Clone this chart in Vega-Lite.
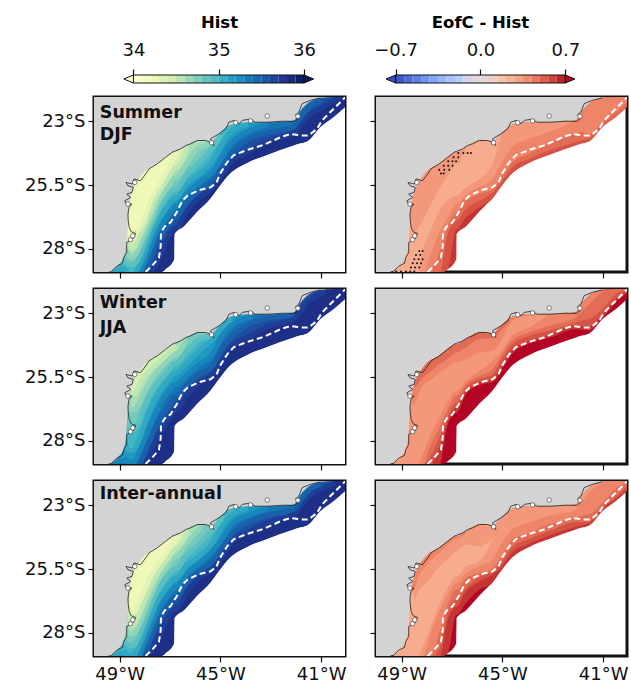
{"$schema":"https://vega.github.io/schema/vega-lite/v6.json","padding":{"left":22,"top":14,"right":4,"bottom":4},"background":"white","bounds":"flush","columns":2,"spacing":{"row":17,"column":31},"resolve":{"scale":{"color":"independent"}},
"config":{"font":"DejaVu Sans","axis":{"labelFont":"DejaVu Sans","labelFontSize":18,"labelColor":"#111","tickColor":"#111","tickSize":6,"tickWidth":1.2,"domain":false,"grid":false,"labelPadding":3,"titleFont":"DejaVu Sans"},"view":{"stroke":"#111","strokeWidth":3}},
"datasets":{
"land":[{"lon":-50.2,"c":-29},{"lon":-49.33,"c":-28.88},{"lon":-49.03,"c":-28.62},{"lon":-48.83,"c":-28.29},{"lon":-48.74,"c":-27.76},{"lon":-48.67,"c":-26.78},{"lon":-48.59,"c":-26.12},{"lon":-48.5,"c":-25.79},{"lon":-48.37,"c":-25.46},{"lon":-48.17,"c":-25.16},{"lon":-47.9,"c":-24.87},{"lon":-47.51,"c":-24.67},{"lon":-47.17,"c":-24.4},{"lon":-46.83,"c":-24.21},{"lon":-46.45,"c":-24.01},{"lon":-45.92,"c":-23.75},{"lon":-45.39,"c":-23.79},{"lon":-45.06,"c":-23.49},{"lon":-44.6,"c":-23.13},{"lon":-43.93,"c":-23.03},{"lon":-43.14,"c":-23.03},{"lon":-42.08,"c":-22.96},{"lon":-41.88,"c":-22.66},{"lon":-41.55,"c":-22.3},{"lon":-41.02,"c":-22.08},{"lon":-40.49,"c":-22.04},{"lon":-39.97,"c":-22.04}],
"sea":[{"lon":-47.9,"e":-29},{"lon":-47.51,"e":-29},{"lon":-47.17,"e":-28.81},{"lon":-46.83,"e":-28.42},{"lon":-46.82,"e":-27.43},{"lon":-46.45,"e":-27.13},{"lon":-45.92,"e":-26.55},{"lon":-45.39,"e":-26.03},{"lon":-45.06,"e":-25.59},{"lon":-44.6,"e":-25.04},{"lon":-43.93,"e":-24.63},{"lon":-43.14,"e":-24.32},{"lon":-42.08,"e":-23.95},{"lon":-41.88,"e":-23.88},{"lon":-41.55,"e":-23.79},{"lon":-41.02,"e":-23.22},{"lon":-40.49,"e":-22.83},{"lon":-39.97,"e":-22.37}],
"dash":[{"lon":-47.97,"lat":-28.92},{"lon":-47.7,"lat":-28.66},{"lon":-47.44,"lat":-28.36},{"lon":-47.37,"lat":-27.9},{"lon":-47.36,"lat":-27.37},{"lon":-47.21,"lat":-27.13},{"lon":-46.98,"lat":-26.97},{"lon":-46.74,"lat":-26.58},{"lon":-46.51,"lat":-26.12},{"lon":-46.31,"lat":-25.92},{"lon":-45.85,"lat":-25.7},{"lon":-45.39,"lat":-25.59},{"lon":-45.15,"lat":-25.4},{"lon":-45.02,"lat":-25.07},{"lon":-44.73,"lat":-24.61},{"lon":-44.46,"lat":-24.32},{"lon":-43.93,"lat":-24.12},{"lon":-43.27,"lat":-23.92},{"lon":-42.61,"lat":-23.62},{"lon":-42.21,"lat":-23.49},{"lon":-41.82,"lat":-23.55},{"lon":-41.49,"lat":-23.55},{"lon":-41.16,"lat":-23.29},{"lon":-40.96,"lat":-22.96},{"lon":-40.63,"lat":-22.63},{"lon":-40.16,"lat":-22.17},{"lon":-39.9,"lat":-21.91}],
"shore":[{"i":1,"lon":-49.33,"lat":-28.9},{"i":2,"lon":-49.12,"lat":-28.69},{"i":3,"lon":-48.89,"lat":-28.58},{"i":4,"lon":-48.83,"lat":-28.33},{"i":5,"lon":-48.72,"lat":-28.16},{"i":6,"lon":-48.72,"lat":-27.76},{"i":7,"lon":-48.59,"lat":-27.7},{"i":8,"lon":-48.43,"lat":-27.57},{"i":9,"lon":-48.37,"lat":-27.4},{"i":10,"lon":-48.54,"lat":-27.34},{"i":11,"lon":-48.62,"lat":-27.17},{"i":12,"lon":-48.66,"lat":-26.91},{"i":13,"lon":-48.67,"lat":-26.65},{"i":14,"lon":-48.63,"lat":-26.38},{"i":15,"lon":-48.51,"lat":-26.25},{"i":16,"lon":-48.72,"lat":-26.25},{"i":17,"lon":-48.8,"lat":-26.12},{"i":18,"lon":-48.56,"lat":-25.99},{"i":19,"lon":-48.72,"lat":-25.86},{"i":20,"lon":-48.51,"lat":-25.79},{"i":21,"lon":-48.46,"lat":-25.59},{"i":22,"lon":-48.67,"lat":-25.53},{"i":23,"lon":-48.75,"lat":-25.4},{"i":24,"lon":-48.5,"lat":-25.46},{"i":25,"lon":-48.43,"lat":-25.26},{"i":26,"lon":-48.17,"lat":-25.33},{"i":27,"lon":-47.97,"lat":-25.07},{"i":28,"lon":-47.84,"lat":-24.87},{"i":29,"lon":-47.51,"lat":-24.67},{"i":30,"lon":-47.17,"lat":-24.41},{"i":31,"lon":-46.91,"lat":-24.21},{"i":32,"lon":-46.58,"lat":-24.08},{"i":33,"lon":-46.38,"lat":-23.95},{"i":34,"lon":-46.18,"lat":-23.88},{"i":35,"lon":-45.92,"lat":-23.75},{"i":36,"lon":-45.59,"lat":-23.75},{"i":37,"lon":-45.39,"lat":-23.82},{"i":38,"lon":-45.26,"lat":-23.95},{"i":39,"lon":-45.39,"lat":-23.68},{"i":40,"lon":-45.06,"lat":-23.49},{"i":41,"lon":-44.79,"lat":-23.29},{"i":42,"lon":-44.66,"lat":-23.03},{"i":43,"lon":-44.46,"lat":-22.96},{"i":44,"lon":-44.26,"lat":-23.09},{"i":45,"lon":-44.13,"lat":-22.96},{"i":46,"lon":-43.87,"lat":-22.92},{"i":47,"lon":-43.6,"lat":-23.03},{"i":48,"lon":-43.14,"lat":-23.03},{"i":49,"lon":-42.48,"lat":-22.99},{"i":50,"lon":-42.06,"lat":-23},{"i":51,"lon":-41.88,"lat":-22.87},{"i":52,"lon":-42.02,"lat":-22.74},{"i":53,"lon":-41.88,"lat":-22.63},{"i":54,"lon":-41.75,"lat":-22.3},{"i":55,"lon":-41.42,"lat":-22.17},{"i":56,"lon":-41.02,"lat":-22.07}],
"isl":[{"lon":-43.14,"lat":-22.79},{"lon":-43.8,"lat":-22.98},{"lon":-44.39,"lat":-23.05},{"lon":-45.35,"lat":-23.84},{"lon":-48.48,"lat":-27.5},{"lon":-48.57,"lat":-27.65},{"lon":-48.67,"lat":-26.25},{"lon":-48.4,"lat":-25.4},{"lon":-41.92,"lat":-22.8}],
"dots":[{"lon":-46.75,"lat":-24.24},{"lon":-46.55,"lat":-24.24},{"lon":-46.38,"lat":-24.24},{"lon":-46.25,"lat":-24.24},{"lon":-46.94,"lat":-24.41},{"lon":-46.75,"lat":-24.41},{"lon":-47.15,"lat":-24.57},{"lon":-46.98,"lat":-24.57},{"lon":-46.84,"lat":-24.57},{"lon":-47.33,"lat":-24.74},{"lon":-47.15,"lat":-24.74},{"lon":-46.98,"lat":-24.74},{"lon":-47.51,"lat":-24.9},{"lon":-47.31,"lat":-24.9},{"lon":-47.11,"lat":-24.9},{"lon":-47.44,"lat":-25.05},{"lon":-47.33,"lat":-25.05},{"lon":-48.3,"lat":-28.09},{"lon":-48.17,"lat":-28.09},{"lon":-48.43,"lat":-28.25},{"lon":-48.26,"lat":-28.25},{"lon":-48.5,"lat":-28.42},{"lon":-48.33,"lat":-28.42},{"lon":-48.17,"lat":-28.42},{"lon":-48.56,"lat":-28.58},{"lon":-48.39,"lat":-28.58},{"lon":-48.23,"lat":-28.58},{"lon":-48.63,"lat":-28.74},{"lon":-48.47,"lat":-28.74},{"lon":-48.3,"lat":-28.74},{"lon":-49.22,"lat":-28.9},{"lon":-49.03,"lat":-28.9},{"lon":-48.83,"lat":-28.9},{"lon":-48.66,"lat":-28.9},{"lon":-48.5,"lat":-28.9}],
"cb1":[{"a":34,"b":34.1,"v":34.05},{"a":34.1,"b":34.2,"v":34.15},{"a":34.2,"b":34.3,"v":34.25},{"a":34.3,"b":34.4,"v":34.35},{"a":34.4,"b":34.5,"v":34.45},{"a":34.5,"b":34.6,"v":34.55},{"a":34.6,"b":34.7,"v":34.65},{"a":34.7,"b":34.8,"v":34.75},{"a":34.8,"b":34.9,"v":34.85},{"a":34.9,"b":35,"v":34.95},{"a":35,"b":35.1,"v":35.05},{"a":35.1,"b":35.2,"v":35.15},{"a":35.2,"b":35.3,"v":35.25},{"a":35.3,"b":35.4,"v":35.35},{"a":35.4,"b":35.5,"v":35.45},{"a":35.5,"b":35.6,"v":35.55},{"a":35.6,"b":35.7,"v":35.65},{"a":35.7,"b":35.8,"v":35.75},{"a":35.8,"b":35.9,"v":35.85},{"a":35.9,"b":36,"v":35.95}],
"cb2":[{"a":-0.7,"b":-0.63,"v":-0.665},{"a":-0.63,"b":-0.56,"v":-0.595},{"a":-0.56,"b":-0.49,"v":-0.525},{"a":-0.49,"b":-0.42,"v":-0.455},{"a":-0.42,"b":-0.35,"v":-0.385},{"a":-0.35,"b":-0.28,"v":-0.315},{"a":-0.28,"b":-0.21,"v":-0.245},{"a":-0.21,"b":-0.14,"v":-0.175},{"a":-0.14,"b":-0.07,"v":-0.105},{"a":-0.07,"b":0,"v":-0.035},{"a":0,"b":0.07,"v":0.035},{"a":0.07,"b":0.14,"v":0.105},{"a":0.14,"b":0.21,"v":0.175},{"a":0.21,"b":0.28,"v":0.245},{"a":0.28,"b":0.35,"v":0.315},{"a":0.35,"b":0.42,"v":0.385},{"a":0.42,"b":0.49,"v":0.455},{"a":0.49,"b":0.56,"v":0.525},{"a":0.56,"b":0.63,"v":0.595},{"a":0.63,"b":0.7,"v":0.665}],
"p1":[{"lon":-49.33,"c":-28.88,"35.8":-29,"35.2":-29,"35.0":-28.9},{"lon":-49.03,"c":-28.62,"35.8":-29,"35.2":-29,"35.0":-28.69},{"lon":-48.83,"c":-28.29,"35.8":-29,"35.2":-29,"35.0":-28.69,"34.8":-28.42},{"lon":-48.74,"c":-27.76,"35.8":-29,"35.2":-29,"35.0":-28.75,"34.8":-28.42,"34.6":-28.03},{"lon":-48.67,"c":-26.78,"35.8":-29,"35.2":-29,"35.0":-28.82,"34.8":-28.49,"34.6":-28.03,"34.4":-27.5,"34.2":-27.37},{"lon":-48.59,"c":-26.12,"35.8":-29,"35.2":-29,"35.0":-29,"34.8":-28.55,"34.6":-28.16,"34.4":-27.83,"34.2":-27.5},{"lon":-48.5,"c":-25.79,"35.8":-29,"35.2":-29,"35.0":-29,"34.8":-28.55,"34.6":-28.23,"34.4":-27.9,"34.2":-27.5},{"lon":-48.37,"c":-25.46,"35.8":-29,"35.4":-29,"35.2":-29,"35.0":-28.75,"34.8":-28.42,"34.6":-28.03,"34.4":-27.63,"34.2":-27.24},{"lon":-48.17,"c":-25.16,"35.8":-29,"35.4":-29,"35.2":-28.69,"35.0":-28.36,"34.8":-27.96,"34.6":-27.57,"34.4":-27.24,"34.2":-26.97},{"lon":-47.9,"c":-24.87,"35.8":-29,"35.6":-29,"35.4":-28.42,"35.2":-28.03,"35.0":-27.63,"34.8":-27.24,"34.6":-26.97,"34.4":-26.65,"34.2":-26.18},{"lon":-47.51,"c":-24.67,"35.8":-29,"35.6":-28.29,"35.4":-27.5,"35.2":-27.11,"35.0":-26.78,"34.8":-26.38,"34.6":-26.05,"34.4":-25.72,"34.2":-25.46},{"lon":-47.17,"c":-24.4,"35.8":-28.81,"35.6":-27.5,"35.4":-27.04,"35.2":-26.65,"35.0":-26.25,"34.8":-25.86,"34.6":-25.53,"34.4":-25.2,"34.2":-24.87},{"lon":-46.83,"c":-24.21,"35.8":-28.42,"35.6":-27.11,"35.4":-26.65,"35.2":-26.25,"35.0":-25.92,"34.8":-25.59,"34.6":-25.11,"34.4":-24.74,"34.2":-24.21},{"lon":-46.82,"c":-24.21,"35.8":-27.43,"35.6":-27.11,"35.4":-26.65,"35.2":-26.25,"35.0":-25.92,"34.8":-25.59,"34.6":-25.11,"34.4":-24.74},{"lon":-46.45,"c":-24.01,"35.8":-27.13,"35.6":-26.51,"35.4":-26.18,"35.2":-25.79,"35.0":-25.4,"34.8":-25.07,"34.6":-24.63,"34.4":-24.14},{"lon":-45.92,"c":-23.75,"35.8":-26.55,"35.6":-25.92,"35.4":-25.66,"35.2":-25.33,"35.0":-25,"34.8":-24.54,"34.6":-23.97},{"lon":-45.39,"c":-23.79,"35.8":-26.03,"35.6":-25.53,"35.4":-25.26,"35.2":-24.93,"35.0":-24.47,"34.8":-23.95,"34.6":-23.79},{"lon":-45.06,"c":-23.49,"35.8":-25.59,"35.6":-25.07,"35.4":-24.8,"35.2":-24.41,"35.0":-23.88,"34.8":-23.49},{"lon":-44.6,"c":-23.13,"35.8":-25.04,"35.6":-24.47,"35.4":-24.14,"35.2":-23.75,"35.0":-23.29},{"lon":-43.93,"c":-23.03,"35.8":-24.63,"35.6":-24.08,"35.4":-23.62,"35.2":-23.29,"35.0":-23.03},{"lon":-43.14,"c":-23.03,"35.8":-24.32,"35.6":-23.68,"35.4":-23.36,"35.2":-23.03},{"lon":-42.08,"c":-22.96,"35.8":-23.95,"35.6":-23.32,"35.4":-23.09},{"lon":-41.88,"c":-22.66,"35.8":-23.88,"35.6":-23.09,"35.4":-22.76},{"lon":-41.55,"c":-22.3,"35.8":-23.79,"35.6":-22.7,"35.4":-22.37},{"lon":-41.02,"c":-22.08,"35.8":-23.22,"35.6":-22.37,"35.4":-22.08},{"lon":-40.49,"c":-22.04,"35.8":-22.83,"35.6":-22.04},{"lon":-39.97,"c":-22.04,"35.8":-22.37}],
"p3":[{"lon":-49.33,"c":-28.88,"35.8":-29,"35.4":-29,"35.2":-28.88},{"lon":-49.03,"c":-28.62,"35.8":-29,"35.4":-29,"35.2":-28.69},{"lon":-48.83,"c":-28.29,"35.8":-29,"35.4":-29,"35.2":-28.69},{"lon":-48.74,"c":-27.76,"35.8":-29,"35.4":-29,"35.2":-28.62,"35.0":-28.16},{"lon":-48.67,"c":-26.78,"35.8":-29,"35.4":-29,"35.2":-28.69,"35.0":-28.16,"34.8":-27.24},{"lon":-48.59,"c":-26.12,"35.8":-29,"35.4":-29,"35.2":-28.75,"35.0":-28.29,"34.8":-27.5,"34.6":-26.38},{"lon":-48.5,"c":-25.79,"35.8":-29,"35.4":-29,"35.2":-28.75,"35.0":-28.29,"34.8":-27.5,"34.6":-26.71,"34.4":-26.18},{"lon":-48.37,"c":-25.46,"35.8":-29,"35.4":-29,"35.2":-28.55,"35.0":-28.03,"34.8":-27.3,"34.6":-26.58,"34.4":-25.92},{"lon":-48.17,"c":-25.16,"35.8":-29,"35.6":-29,"35.4":-28.62,"35.2":-28.09,"35.0":-27.5,"34.8":-26.78,"34.6":-26.18,"34.4":-25.53},{"lon":-47.9,"c":-24.87,"35.8":-29,"35.6":-28.49,"35.4":-27.96,"35.2":-27.43,"35.0":-26.78,"34.8":-26.18,"34.6":-25.66,"34.4":-25.2},{"lon":-47.51,"c":-24.67,"35.8":-29,"35.6":-27.63,"35.4":-27.11,"35.2":-26.58,"35.0":-26.05,"34.8":-25.59,"34.6":-25.13,"34.4":-24.84},{"lon":-47.17,"c":-24.4,"35.8":-28.81,"35.6":-27.17,"35.4":-26.65,"35.2":-26.05,"35.0":-25.59,"34.8":-25.2,"34.6":-24.8,"34.4":-24.54},{"lon":-46.83,"c":-24.21,"35.8":-28.42,"35.6":-26.71,"35.4":-26.18,"35.2":-25.72,"35.0":-25.26,"34.8":-24.87,"34.6":-24.54,"34.4":-24.21},{"lon":-46.82,"c":-24.21,"35.8":-27.43,"35.6":-26.71,"35.4":-26.18,"35.2":-25.72,"35.0":-25.26,"34.8":-24.87,"34.6":-24.54},{"lon":-46.45,"c":-24.01,"35.8":-27.13,"35.6":-26.18,"35.4":-25.79,"35.2":-25.4,"35.0":-24.93,"34.8":-24.47,"34.6":-24.01},{"lon":-45.92,"c":-23.75,"35.8":-26.55,"35.6":-25.66,"35.4":-25.33,"35.2":-24.93,"35.0":-24.41,"34.8":-23.95},{"lon":-45.39,"c":-23.79,"35.8":-26.03,"35.6":-25.33,"35.4":-25,"35.2":-24.54,"35.0":-23.95,"34.8":-23.79},{"lon":-45.06,"c":-23.49,"35.8":-25.59,"35.6":-24.87,"35.4":-24.41,"35.2":-23.88,"35.0":-23.55},{"lon":-44.6,"c":-23.13,"35.8":-25.04,"35.6":-24.21,"35.4":-23.82,"35.2":-23.36,"35.0":-23.13},{"lon":-43.93,"c":-23.03,"35.8":-24.63,"35.6":-23.82,"35.4":-23.36,"35.2":-23.07},{"lon":-43.14,"c":-23.03,"35.8":-24.32,"35.6":-23.42,"35.4":-23.09},{"lon":-42.08,"c":-22.96,"35.8":-23.95,"35.6":-23.09,"35.4":-22.96},{"lon":-41.88,"c":-22.66,"35.8":-23.88,"35.6":-22.83},{"lon":-41.55,"c":-22.3,"35.8":-23.79,"35.6":-22.43},{"lon":-41.02,"c":-22.08,"35.8":-23.22,"35.6":-22.11},{"lon":-40.49,"c":-22.04,"35.8":-22.83},{"lon":-39.97,"c":-22.04,"35.8":-22.37}],
"p5":[{"lon":-49.33,"c":-28.88,"35.8":-29,"35.2":-29,"35.0":-28.88},{"lon":-49.03,"c":-28.62,"35.8":-29,"35.2":-29,"35.0":-28.69},{"lon":-48.83,"c":-28.29,"35.8":-29,"35.2":-29,"35.0":-28.69,"34.8":-28.29},{"lon":-48.74,"c":-27.76,"35.8":-29,"35.2":-29,"35.0":-28.69,"34.8":-28.29},{"lon":-48.67,"c":-26.78,"35.8":-29,"35.2":-29,"35.0":-28.75,"34.8":-28.36,"34.6":-27.83},{"lon":-48.59,"c":-26.12,"35.8":-29,"35.2":-29,"35.0":-28.82,"34.8":-28.42,"34.6":-27.96,"34.4":-27.5,"34.2":-26.97},{"lon":-48.5,"c":-25.79,"35.8":-29,"35.2":-29,"35.0":-28.82,"34.8":-28.42,"34.6":-27.96,"34.4":-27.63,"34.2":-27.11},{"lon":-48.37,"c":-25.46,"35.8":-29,"35.4":-29,"35.2":-29,"35.0":-28.62,"34.8":-28.23,"34.6":-27.76,"34.4":-27.37,"34.2":-26.84},{"lon":-48.17,"c":-25.16,"35.8":-29,"35.4":-29,"35.2":-28.55,"35.0":-28.16,"34.8":-27.76,"34.6":-27.37,"34.4":-26.91,"34.2":-26.45},{"lon":-47.9,"c":-24.87,"35.8":-29,"35.6":-28.75,"35.4":-28.29,"35.2":-27.9,"35.0":-27.5,"34.8":-27.04,"34.6":-26.65,"34.4":-26.32,"34.2":-25.79},{"lon":-47.51,"c":-24.67,"35.8":-29,"35.6":-28.03,"35.4":-27.37,"35.2":-26.97,"35.0":-26.58,"34.8":-26.18,"34.6":-25.79,"34.4":-25.53,"34.2":-25.2},{"lon":-47.17,"c":-24.4,"35.8":-28.81,"35.6":-27.37,"35.4":-26.91,"35.2":-26.51,"35.0":-26.12,"34.8":-25.72,"34.6":-25.33,"34.4":-25.07,"34.2":-24.74},{"lon":-46.83,"c":-24.21,"35.8":-28.42,"35.6":-26.97,"35.4":-26.51,"35.2":-26.12,"35.0":-25.79,"34.8":-25.4,"34.6":-24.93,"34.4":-24.61,"34.2":-24.21},{"lon":-46.82,"c":-24.21,"35.8":-27.43,"35.6":-26.97,"35.4":-26.51,"35.2":-26.12,"35.0":-25.79,"34.8":-25.4,"34.6":-24.93,"34.4":-24.61},{"lon":-46.45,"c":-24.01,"35.8":-27.13,"35.6":-26.38,"35.4":-25.99,"35.2":-25.66,"35.0":-25.33,"34.8":-24.93,"34.6":-24.47,"34.4":-24.12},{"lon":-45.92,"c":-23.75,"35.8":-26.55,"35.6":-25.79,"35.4":-25.53,"35.2":-25.2,"35.0":-24.93,"34.8":-24.47,"34.6":-23.88},{"lon":-45.39,"c":-23.79,"35.8":-26.03,"35.6":-25.43,"35.4":-25.13,"35.2":-24.74,"35.0":-24.41,"34.8":-23.88},{"lon":-45.06,"c":-23.49,"35.8":-25.59,"35.6":-25,"35.4":-24.67,"35.2":-24.34,"35.0":-23.82,"34.8":-23.52},{"lon":-44.6,"c":-23.13,"35.8":-25.04,"35.6":-24.34,"35.4":-24.05,"35.2":-23.68,"35.0":-23.29},{"lon":-43.93,"c":-23.03,"35.8":-24.63,"35.6":-23.95,"35.4":-23.58,"35.2":-23.29,"35.0":-23.03},{"lon":-43.14,"c":-23.03,"35.8":-24.32,"35.6":-23.58,"35.4":-23.29,"35.2":-23.03},{"lon":-42.08,"c":-22.96,"35.8":-23.95,"35.6":-23.22,"35.4":-23.03},{"lon":-41.88,"c":-22.66,"35.8":-23.88,"35.6":-22.96,"35.4":-22.74},{"lon":-41.55,"c":-22.3,"35.8":-23.79,"35.6":-22.57,"35.4":-22.34},{"lon":-41.02,"c":-22.08,"35.8":-23.22,"35.6":-22.24,"35.4":-22.08},{"lon":-40.49,"c":-22.04,"35.8":-22.83,"35.6":-22.04},{"lon":-39.97,"c":-22.04,"35.8":-22.37}],
"p2":[{"lon":-49.33,"c":-28.88,"0.28":-29},{"lon":-49.03,"c":-28.62,"0.28":-29},{"lon":-48.83,"c":-28.29,"0.28":-29},{"lon":-48.74,"c":-27.76,"0.28":-29},{"lon":-48.67,"c":-26.78,"0.28":-29,"0.351":-26.78},{"lon":-48.59,"c":-26.12,"0.28":-29,"0.351":-27.11},{"lon":-48.5,"c":-25.79,"0.28":-29,"0.351":-27.3},{"lon":-48.37,"c":-25.46,"0.35":-29,"0.28":-29,"0.351":-27.24},{"lon":-48.17,"c":-25.16,"0.42":-29,"0.35":-29,"0.28":-28.03,"0.351":-26.91},{"lon":-47.9,"c":-24.87,"0.49":-29,"0.42":-29,"0.35":-28.36,"0.28":-27.43,"0.351":-26.38},{"lon":-47.51,"c":-24.67,"0.56":-29,"0.49":-29,"0.42":-28.16,"0.35":-27.37,"0.28":-26.51,"0.351":-25.66},{"lon":-47.17,"c":-24.4,"0.63":-28.81,"0.56":-28.81,"0.49":-27.43,"0.42":-27.13,"0.35":-26.78,"0.28":-26.12,"0.351":-25.13},{"lon":-46.83,"c":-24.21,"0.63":-28.42,"0.56":-27.24,"0.49":-26.91,"0.42":-26.58,"0.35":-26.25,"0.28":-25.92,"0.351":-24.67},{"lon":-46.82,"c":-24.21,"0.63":-27.43,"0.56":-27.24,"0.49":-26.91,"0.42":-26.58,"0.35":-26.25,"0.28":-25.92,"0.351":-24.67},{"lon":-46.45,"c":-24.01,"0.63":-27.13,"0.56":-26.78,"0.49":-26.45,"0.42":-26.12,"0.35":-25.86,"0.28":-25.59,"0.351":-24.08},{"lon":-45.92,"c":-23.75,"0.63":-26.55,"0.56":-26.38,"0.49":-26.12,"0.42":-25.86,"0.35":-25.59,"0.28":-25.26},{"lon":-45.39,"c":-23.79,"0.63":-26.03,"0.56":-26.03,"0.49":-25.79,"0.42":-25.66,"0.35":-25.26,"0.28":-24.67},{"lon":-45.06,"c":-23.49,"0.56":-25.59,"0.49":-25.4,"0.42":-25.22,"0.35":-24.67,"0.28":-23.55},{"lon":-44.6,"c":-23.13,"0.56":-25.04,"0.49":-24.8,"0.42":-24.61,"0.35":-24.01},{"lon":-43.93,"c":-23.03,"0.56":-24.63,"0.49":-24.47,"0.42":-24.28,"0.35":-23.68},{"lon":-43.14,"c":-23.03,"0.56":-24.32,"0.49":-24.14,"0.42":-23.88,"0.35":-23.42},{"lon":-42.08,"c":-22.96,"0.56":-23.95,"0.49":-23.82,"0.42":-23.49,"0.35":-22.96},{"lon":-41.88,"c":-22.66,"0.56":-23.88,"0.49":-23.75,"0.42":-23.42},{"lon":-41.55,"c":-22.3,"0.56":-23.79,"0.49":-23.68,"0.42":-23.49},{"lon":-41.02,"c":-22.08,"0.56":-23.22,"0.49":-23.16,"0.42":-23.03},{"lon":-40.49,"c":-22.04,"0.56":-22.83,"0.49":-22.79,"0.42":-22.63},{"lon":-39.97,"c":-22.04,"0.56":-22.37,"0.49":-22.34,"0.42":-22.17}],
"p4":[{"lon":-49.33,"c":-28.88,"0.35":-29},{"lon":-49.03,"c":-28.62,"0.35":-29},{"lon":-48.83,"c":-28.29,"0.35":-29},{"lon":-48.74,"c":-27.76,"0.35":-29},{"lon":-48.67,"c":-26.78,"0.35":-29},{"lon":-48.59,"c":-26.12,"0.35":-29,"0.421":-26.45},{"lon":-48.5,"c":-25.79,"0.35":-29,"0.421":-26.58,"0.491":-25.92},{"lon":-48.37,"c":-25.46,"0.42":-29,"0.35":-29,"0.421":-26.25,"0.491":-25.79},{"lon":-48.17,"c":-25.16,"0.56":-29,"0.49":-29,"0.42":-29,"0.35":-28.55,"0.421":-25.86,"0.491":-25.53},{"lon":-47.9,"c":-24.87,"0.63":-29,"0.56":-29,"0.49":-28.69,"0.42":-28.29,"0.35":-27.9,"0.421":-25.66,"0.491":-25.33},{"lon":-47.51,"c":-24.67,"0.7":-29,"0.63":-29,"0.56":-28.29,"0.49":-27.9,"0.42":-27.5,"0.35":-27.11,"0.421":-25.33,"0.491":-25},{"lon":-47.17,"c":-24.4,"0.7":-28.81,"0.63":-27.37,"0.56":-27.24,"0.49":-27.04,"0.42":-26.78,"0.35":-26.45,"0.421":-25.11,"0.491":-24.8},{"lon":-46.83,"c":-24.21,"0.7":-28.42,"0.63":-26.91,"0.56":-26.71,"0.49":-26.51,"0.42":-26.25,"0.35":-26.05,"0.421":-24.93,"0.491":-24.54},{"lon":-46.82,"c":-24.21,"0.7":-27.43,"0.63":-26.91,"0.56":-26.71,"0.49":-26.51,"0.42":-26.25,"0.35":-26.05,"0.421":-24.93,"0.491":-24.54},{"lon":-46.45,"c":-24.01,"0.7":-27.13,"0.63":-26.18,"0.56":-26.05,"0.49":-25.92,"0.42":-25.79,"0.35":-25.66,"0.421":-24.8,"0.491":-24.34},{"lon":-45.92,"c":-23.75,"0.7":-26.55,"0.63":-25.82,"0.56":-25.72,"0.49":-25.59,"0.42":-25.46,"0.35":-25.26,"0.421":-24.54,"0.491":-24.01},{"lon":-45.39,"c":-23.79,"0.7":-26.03,"0.63":-25.7,"0.56":-25.59,"0.49":-25.4,"0.42":-25.2,"0.35":-24.87,"0.421":-24.47,"0.491":-23.97},{"lon":-45.06,"c":-23.49,"0.7":-25.59,"0.63":-25.26,"0.56":-25.11,"0.49":-24.87,"0.42":-24.67,"0.35":-24.54,"0.421":-24.08,"0.491":-23.68},{"lon":-44.6,"c":-23.13,"0.7":-25.04,"0.63":-24.58,"0.56":-24.41,"0.49":-24.21,"0.42":-24.05,"0.35":-23.88,"0.421":-23.29,"0.491":-23.16},{"lon":-43.93,"c":-23.03,"0.7":-24.63,"0.63":-24.18,"0.56":-24.08,"0.49":-23.88,"0.42":-23.75,"0.35":-23.55,"0.421":-23.07},{"lon":-43.14,"c":-23.03,"0.7":-24.32,"0.63":-23.97,"0.56":-23.84,"0.49":-23.68,"0.42":-23.49,"0.35":-23.03},{"lon":-42.08,"c":-22.96,"0.7":-23.95,"0.63":-23.62,"0.56":-23.49,"0.49":-23.36,"0.42":-23.16},{"lon":-41.88,"c":-22.66,"0.7":-23.88,"0.63":-23.64,"0.56":-23.49,"0.49":-23.29,"0.42":-22.96},{"lon":-41.55,"c":-22.3,"0.7":-23.79,"0.63":-23.66,"0.56":-23.49,"0.49":-23.22,"0.42":-22.63},{"lon":-41.02,"c":-22.08,"0.7":-23.22,"0.63":-23.18,"0.56":-23.03,"0.49":-22.83,"0.42":-22.11},{"lon":-40.49,"c":-22.04,"0.7":-22.83,"0.63":-22.57,"0.56":-22.43,"0.49":-22.24},{"lon":-39.97,"c":-22.04,"0.7":-22.37,"0.63":-22.13,"0.56":-22.06,"0.49":-22.04}],
"p6":[{"lon":-49.33,"c":-28.88,"0.28":-29},{"lon":-49.03,"c":-28.62,"0.28":-29},{"lon":-48.83,"c":-28.29,"0.28":-29},{"lon":-48.74,"c":-27.76,"0.28":-29},{"lon":-48.67,"c":-26.78,"0.28":-29},{"lon":-48.59,"c":-26.12,"0.28":-29,"0.421":-26.45},{"lon":-48.5,"c":-25.79,"0.28":-29,"0.351":-26.71,"0.421":-26.32},{"lon":-48.37,"c":-25.46,"0.35":-29,"0.28":-29,"0.351":-26.45,"0.421":-25.92},{"lon":-48.17,"c":-25.16,"0.42":-29,"0.35":-29,"0.28":-28.55,"0.351":-26.18,"0.421":-25.53},{"lon":-47.9,"c":-24.87,"0.56":-29,"0.49":-29,"0.42":-29,"0.35":-28.16,"0.28":-27.9,"0.351":-25.92,"0.421":-25.2},{"lon":-47.51,"c":-24.67,"0.63":-29,"0.56":-29,"0.49":-28.69,"0.42":-28.03,"0.35":-27.17,"0.28":-26.91,"0.351":-25.4,"0.421":-24.87},{"lon":-47.17,"c":-24.4,"0.7":-28.81,"0.63":-28.81,"0.56":-27.5,"0.49":-27.24,"0.42":-26.91,"0.35":-26.51,"0.28":-26.25,"0.351":-25.13,"0.421":-24.54},{"lon":-46.83,"c":-24.21,"0.7":-28.42,"0.63":-27.3,"0.56":-26.97,"0.49":-26.71,"0.42":-26.32,"0.35":-26.05,"0.28":-25.79,"0.351":-24.8,"0.421":-24.34},{"lon":-46.82,"c":-24.21,"0.7":-27.43,"0.63":-27.3,"0.56":-26.97,"0.49":-26.71,"0.42":-26.32,"0.35":-26.05,"0.28":-25.79,"0.351":-24.8,"0.421":-24.34},{"lon":-46.45,"c":-24.01,"0.7":-27.13,"0.63":-26.84,"0.56":-26.38,"0.49":-26.25,"0.42":-25.86,"0.35":-25.66,"0.28":-25.4,"0.351":-24.54,"0.421":-24.08},{"lon":-45.92,"c":-23.75,"0.7":-26.55,"0.63":-26.32,"0.56":-25.99,"0.49":-25.82,"0.42":-25.66,"0.35":-25.4,"0.28":-25.2,"0.351":-24.61},{"lon":-45.39,"c":-23.79,"0.7":-26.03,"0.63":-26.03,"0.56":-25.72,"0.49":-25.59,"0.42":-25.46,"0.35":-25.13,"0.28":-24.34,"0.351":-24.28},{"lon":-45.06,"c":-23.49,"0.63":-25.59,"0.56":-25.43,"0.49":-25.26,"0.42":-25.07,"0.35":-24.54,"0.28":-23.55,"0.351":-23.88},{"lon":-44.6,"c":-23.13,"0.63":-25.04,"0.56":-24.84,"0.49":-24.63,"0.42":-24.34,"0.35":-23.95},{"lon":-43.93,"c":-23.03,"0.63":-24.63,"0.56":-24.5,"0.49":-24.32,"0.42":-24.08,"0.35":-23.68},{"lon":-43.14,"c":-23.03,"0.63":-24.32,"0.56":-24.18,"0.49":-24.01,"0.42":-23.75,"0.35":-23.42},{"lon":-42.08,"c":-22.96,"0.63":-23.95,"0.56":-23.84,"0.49":-23.66,"0.42":-23.49,"0.35":-23.16},{"lon":-41.88,"c":-22.66,"0.63":-23.88,"0.56":-23.79,"0.49":-23.66,"0.42":-23.42,"0.35":-22.89},{"lon":-41.55,"c":-22.3,"0.63":-23.79,"0.56":-23.71,"0.49":-23.62,"0.42":-23.36,"0.35":-22.5},{"lon":-41.02,"c":-22.08,"0.63":-23.22,"0.56":-23.13,"0.49":-23.09,"0.42":-22.89,"0.35":-22.13},{"lon":-40.49,"c":-22.04,"0.63":-22.83,"0.56":-22.74,"0.49":-22.66,"0.42":-22.34,"0.35":-22.04},{"lon":-39.97,"c":-22.04,"0.63":-22.37,"0.56":-22.3,"0.49":-22.17,"0.42":-22.04}]
},
"concat":[
{"width":251,"height":8,"view":{"stroke":null},"encoding":{"x":{"field":"a","type":"quantitative","scale":{"domain":[33.538,36.48],"nice":false,"zero":false},"axis":{"orient":"top","offset":-3,"values":[34,35,36],"format":"d","labelPadding":10,"title":"Hist","titleFontSize":16.5,"titleFontWeight":"bold","titleX":125,"titlePadding":11}},"y":{"datum":-3,"type":"quantitative","scale":{"domain":[0,8],"nice":false},"axis":null},"y2":{"datum":5}},"layer":[
{"data":{"name":"cb1"},"mark":{"type":"rect"},"encoding":{"x2":{"field":"b"},"color":{"field":"v","type":"quantitative","legend":null,"scale":{"domain":[34,34.25,34.5,34.75,35,35.25,35.5,35.75,36],"range":["#ffffd9","#edf8b1","#c7e9b4","#7fcdbb","#41b6c4","#1d91c0","#225ea8","#253494","#081d58"]}}}},
{"data":{"values":[{"a":34,"b":36}]},"mark":{"type":"rect","fill":null,"stroke":"#111","strokeWidth":1},"encoding":{"x2":{"field":"b"}}},
{"data":{"values":[{"a":34}]},"mark":{"type":"point","filled":true,"fill":"#ffffd9","stroke":"#111","strokeWidth":1,"opacity":1,"size":64,"shape":"M0,-1L-2.4,0L0,1Z"},"encoding":{"y":{"datum":1,"type":"quantitative"},"y2":null}},
{"data":{"values":[{"a":36}]},"mark":{"type":"point","filled":true,"fill":"#081d58","stroke":"#111","strokeWidth":1,"opacity":1,"size":64,"shape":"M0,-1L2.4,0L0,1Z"},"encoding":{"y":{"datum":1,"type":"quantitative"},"y2":null}}]},
{"width":251,"height":8,"view":{"stroke":null},"encoding":{"x":{"field":"a","type":"quantitative","scale":{"domain":[-0.862,1.209],"nice":false,"zero":false},"axis":{"orient":"top","offset":-3,"values":[-0.7,0,0.7],"format":".1f","labelPadding":10,"title":"EofC - Hist","titleFontSize":16.5,"titleFontWeight":"bold","titleX":104,"titlePadding":11}},"y":{"datum":-3,"type":"quantitative","scale":{"domain":[0,8],"nice":false},"axis":null},"y2":{"datum":5}},"layer":[
{"data":{"name":"cb2"},"mark":{"type":"rect"},"encoding":{"x2":{"field":"b"},"color":{"field":"v","type":"quantitative","legend":null,"scale":{"domain":[-0.7,-0.56,-0.42,-0.28,-0.14,0,0.14,0.28,0.42,0.56,0.7],"range":["#3b4cc0","#5977e3","#7b9ff9","#9ebeff","#c0d4f5","#dddcdc","#f2cbb7","#f7ac8e","#ee8468","#d65244","#b40426"]}}}},
{"data":{"values":[{"a":-0.7,"b":0.7}]},"mark":{"type":"rect","fill":null,"stroke":"#111","strokeWidth":1},"encoding":{"x2":{"field":"b"}}},
{"data":{"values":[{"a":-0.7}]},"mark":{"type":"point","filled":true,"fill":"#3b4cc0","stroke":"#111","strokeWidth":1,"opacity":1,"size":64,"shape":"M0,-1L-2.4,0L0,1Z"},"encoding":{"y":{"datum":1,"type":"quantitative"},"y2":null}},
{"data":{"values":[{"a":0.7}]},"mark":{"type":"point","filled":true,"fill":"#b40426","stroke":"#111","strokeWidth":1,"opacity":1,"size":64,"shape":"M0,-1L2.4,0L0,1Z"},"encoding":{"y":{"datum":1,"type":"quantitative"},"y2":null}}]},
{"width":251,"height":175,"encoding":{"x":{"field":"lon","type":"quantitative","scale":{"domain":[-50.02,-40.05],"nice":false,"zero":false},"axis":{"values":[-49,-45,-41],"labels":false,"title":null}},"y":{"field":"lat","type":"quantitative","scale":{"domain":[-28.92,-22.04],"nice":false,"zero":false},"axis":{"values":[-23,-25.5,-28],"labelExpr":"abs(datum.value)+'°S'","title":null}}},"layer":[
{"data":{"name":"p1"},"transform":[{"fold":["35\\.8","35\\.6","35\\.4","35\\.2","35\\.0","34\\.8","34\\.6","34\\.4","34\\.2"],"as":["band","lat"]}],"mark":{"type":"area","interpolate":"monotone","clip":true,"strokeWidth":10,"strokeOpacity":0.5},"encoding":{"y2":{"field":"c"},"detail":{"field":"band"},"color":{"field":"band","type":"quantitative","legend":null,"scale":{"domain":[34,34.25,34.5,34.75,35,35.25,35.5,35.75,36],"range":["#ffffd9","#edf8b1","#c7e9b4","#7fcdbb","#41b6c4","#1d91c0","#225ea8","#253494","#081d58"]}},"stroke":{"field":"band","type":"quantitative","legend":null,"scale":{"domain":[34,34.25,34.5,34.75,35,35.25,35.5,35.75,36],"range":["#ffffd9","#edf8b1","#c7e9b4","#7fcdbb","#41b6c4","#1d91c0","#225ea8","#253494","#081d58"]}}}},
{"data":{"name":"land"},"mark":{"type":"area","interpolate":"monotone","clip":true,"color":"#d3d3d3"},"encoding":{"y":{"field":"c","type":"quantitative"},"y2":{"datum":-21.9}}},
{"data":{"name":"sea"},"mark":{"type":"area","interpolate":"monotone","clip":true,"color":"white"},"encoding":{"y":{"field":"e","type":"quantitative"},"y2":{"datum":-30}}},
{"data":{"name":"dash"},"mark":{"type":"line","clip":true,"color":"white","strokeWidth":2,"strokeDash":[6,3.5]}},
{"data":{"name":"shore"},"mark":{"type":"line","clip":true,"color":"#222","strokeWidth":0.8},"encoding":{"order":{"field":"i"}}},
{"data":{"name":"isl"},"mark":{"type":"point","clip":true,"filled":true,"fill":"white","stroke":"#333","strokeWidth":0.6,"opacity":1,"size":20}},
{"data":{"values":[{"lon":-49.79,"lat":-22.66,"t":"Summer"},{"lon":-49.79,"lat":-23.53,"t":"DJF"}]},"mark":{"type":"text","align":"left","baseline":"middle","fontWeight":"bold","fontSize":17.5,"color":"#111"},"encoding":{"text":{"field":"t"}}}]},
{"width":251,"height":175,"encoding":{"x":{"field":"lon","type":"quantitative","scale":{"domain":[-50.02,-40.05],"nice":false,"zero":false},"axis":{"values":[-49,-45,-41],"labels":false,"title":null}},"y":{"field":"lat","type":"quantitative","scale":{"domain":[-28.92,-22.04],"nice":false,"zero":false},"axis":{"values":[-23,-25.5,-28],"labels":false,"title":null}}},"layer":[
{"data":{"name":"land"},"mark":{"type":"area","interpolate":"monotone","clip":true,"color":"#d3d3d3"},"encoding":{"y":{"field":"c","type":"quantitative"},"y2":{"datum":-21.9}}},
{"data":{"name":"p2"},"transform":[{"fold":["0\\.7","0\\.63","0\\.56","0\\.49","0\\.42","0\\.35","0\\.28","0\\.351","0\\.421","0\\.491"],"as":["band","lat"]}],"mark":{"type":"area","interpolate":"monotone","clip":true},"encoding":{"y2":{"field":"c"},"detail":{"field":"band"},"color":{"field":"band","type":"quantitative","legend":null,"scale":{"domain":[-0.7,-0.56,-0.42,-0.28,-0.14,0,0.14,0.28,0.42,0.56,0.7],"range":["#3b4cc0","#5977e3","#7b9ff9","#9ebeff","#c0d4f5","#dddcdc","#f2cbb7","#f7ac8e","#ee8468","#d65244","#b40426"]}}}},
{"data":{"name":"dots"},"mark":{"type":"point","filled":true,"color":"#111","opacity":1,"size":4}},
{"data":{"name":"dash"},"mark":{"type":"line","clip":true,"color":"white","strokeWidth":2,"strokeDash":[6,3.5]}},
{"data":{"name":"shore"},"mark":{"type":"line","clip":true,"color":"#222","strokeWidth":0.8},"encoding":{"order":{"field":"i"}}},
{"data":{"name":"isl"},"mark":{"type":"point","clip":true,"filled":true,"fill":"white","stroke":"#333","strokeWidth":0.6,"opacity":1,"size":20}}]},
{"width":251,"height":175,"encoding":{"x":{"field":"lon","type":"quantitative","scale":{"domain":[-50.02,-40.05],"nice":false,"zero":false},"axis":{"values":[-49,-45,-41],"labels":false,"title":null}},"y":{"field":"lat","type":"quantitative","scale":{"domain":[-28.92,-22.04],"nice":false,"zero":false},"axis":{"values":[-23,-25.5,-28],"labelExpr":"abs(datum.value)+'°S'","title":null}}},"layer":[
{"data":{"name":"p3"},"transform":[{"fold":["35\\.8","35\\.6","35\\.4","35\\.2","35\\.0","34\\.8","34\\.6","34\\.4","34\\.2"],"as":["band","lat"]}],"mark":{"type":"area","interpolate":"monotone","clip":true,"strokeWidth":10,"strokeOpacity":0.5},"encoding":{"y2":{"field":"c"},"detail":{"field":"band"},"color":{"field":"band","type":"quantitative","legend":null,"scale":{"domain":[34,34.25,34.5,34.75,35,35.25,35.5,35.75,36],"range":["#ffffd9","#edf8b1","#c7e9b4","#7fcdbb","#41b6c4","#1d91c0","#225ea8","#253494","#081d58"]}},"stroke":{"field":"band","type":"quantitative","legend":null,"scale":{"domain":[34,34.25,34.5,34.75,35,35.25,35.5,35.75,36],"range":["#ffffd9","#edf8b1","#c7e9b4","#7fcdbb","#41b6c4","#1d91c0","#225ea8","#253494","#081d58"]}}}},
{"data":{"name":"land"},"mark":{"type":"area","interpolate":"monotone","clip":true,"color":"#d3d3d3"},"encoding":{"y":{"field":"c","type":"quantitative"},"y2":{"datum":-21.9}}},
{"data":{"name":"sea"},"mark":{"type":"area","interpolate":"monotone","clip":true,"color":"white"},"encoding":{"y":{"field":"e","type":"quantitative"},"y2":{"datum":-30}}},
{"data":{"name":"dash"},"mark":{"type":"line","clip":true,"color":"white","strokeWidth":2,"strokeDash":[6,3.5]}},
{"data":{"name":"shore"},"mark":{"type":"line","clip":true,"color":"#222","strokeWidth":0.8},"encoding":{"order":{"field":"i"}}},
{"data":{"name":"isl"},"mark":{"type":"point","clip":true,"filled":true,"fill":"white","stroke":"#333","strokeWidth":0.6,"opacity":1,"size":20}},
{"data":{"values":[{"lon":-49.79,"lat":-22.6,"t":"Winter"},{"lon":-49.79,"lat":-23.57,"t":"JJA"}]},"mark":{"type":"text","align":"left","baseline":"middle","fontWeight":"bold","fontSize":17.5,"color":"#111"},"encoding":{"text":{"field":"t"}}}]},
{"width":251,"height":175,"encoding":{"x":{"field":"lon","type":"quantitative","scale":{"domain":[-50.02,-40.05],"nice":false,"zero":false},"axis":{"values":[-49,-45,-41],"labels":false,"title":null}},"y":{"field":"lat","type":"quantitative","scale":{"domain":[-28.92,-22.04],"nice":false,"zero":false},"axis":{"values":[-23,-25.5,-28],"labels":false,"title":null}}},"layer":[
{"data":{"name":"land"},"mark":{"type":"area","interpolate":"monotone","clip":true,"color":"#d3d3d3"},"encoding":{"y":{"field":"c","type":"quantitative"},"y2":{"datum":-21.9}}},
{"data":{"name":"p4"},"transform":[{"fold":["0\\.7","0\\.63","0\\.56","0\\.49","0\\.42","0\\.35","0\\.28","0\\.351","0\\.421","0\\.491"],"as":["band","lat"]}],"mark":{"type":"area","interpolate":"monotone","clip":true},"encoding":{"y2":{"field":"c"},"detail":{"field":"band"},"color":{"field":"band","type":"quantitative","legend":null,"scale":{"domain":[-0.7,-0.56,-0.42,-0.28,-0.14,0,0.14,0.28,0.42,0.56,0.7],"range":["#3b4cc0","#5977e3","#7b9ff9","#9ebeff","#c0d4f5","#dddcdc","#f2cbb7","#f7ac8e","#ee8468","#d65244","#b40426"]}}}},
{"data":{"name":"dash"},"mark":{"type":"line","clip":true,"color":"white","strokeWidth":2,"strokeDash":[6,3.5]}},
{"data":{"name":"shore"},"mark":{"type":"line","clip":true,"color":"#222","strokeWidth":0.8},"encoding":{"order":{"field":"i"}}},
{"data":{"name":"isl"},"mark":{"type":"point","clip":true,"filled":true,"fill":"white","stroke":"#333","strokeWidth":0.6,"opacity":1,"size":20}}]},
{"width":251,"height":175,"encoding":{"x":{"field":"lon","type":"quantitative","scale":{"domain":[-50.02,-40.05],"nice":false,"zero":false},"axis":{"values":[-49,-45,-41],"labelExpr":"abs(datum.value)+'°W'","title":null}},"y":{"field":"lat","type":"quantitative","scale":{"domain":[-28.92,-22.04],"nice":false,"zero":false},"axis":{"values":[-23,-25.5,-28],"labelExpr":"abs(datum.value)+'°S'","title":null}}},"layer":[
{"data":{"name":"p5"},"transform":[{"fold":["35\\.8","35\\.6","35\\.4","35\\.2","35\\.0","34\\.8","34\\.6","34\\.4","34\\.2"],"as":["band","lat"]}],"mark":{"type":"area","interpolate":"monotone","clip":true,"strokeWidth":10,"strokeOpacity":0.5},"encoding":{"y2":{"field":"c"},"detail":{"field":"band"},"color":{"field":"band","type":"quantitative","legend":null,"scale":{"domain":[34,34.25,34.5,34.75,35,35.25,35.5,35.75,36],"range":["#ffffd9","#edf8b1","#c7e9b4","#7fcdbb","#41b6c4","#1d91c0","#225ea8","#253494","#081d58"]}},"stroke":{"field":"band","type":"quantitative","legend":null,"scale":{"domain":[34,34.25,34.5,34.75,35,35.25,35.5,35.75,36],"range":["#ffffd9","#edf8b1","#c7e9b4","#7fcdbb","#41b6c4","#1d91c0","#225ea8","#253494","#081d58"]}}}},
{"data":{"name":"land"},"mark":{"type":"area","interpolate":"monotone","clip":true,"color":"#d3d3d3"},"encoding":{"y":{"field":"c","type":"quantitative"},"y2":{"datum":-21.9}}},
{"data":{"name":"sea"},"mark":{"type":"area","interpolate":"monotone","clip":true,"color":"white"},"encoding":{"y":{"field":"e","type":"quantitative"},"y2":{"datum":-30}}},
{"data":{"name":"dash"},"mark":{"type":"line","clip":true,"color":"white","strokeWidth":2,"strokeDash":[6,3.5]}},
{"data":{"name":"shore"},"mark":{"type":"line","clip":true,"color":"#222","strokeWidth":0.8},"encoding":{"order":{"field":"i"}}},
{"data":{"name":"isl"},"mark":{"type":"point","clip":true,"filled":true,"fill":"white","stroke":"#333","strokeWidth":0.6,"opacity":1,"size":20}},
{"data":{"values":[{"lon":-49.79,"lat":-22.57,"t":"Inter-annual"}]},"mark":{"type":"text","align":"left","baseline":"middle","fontWeight":"bold","fontSize":17.5,"color":"#111"},"encoding":{"text":{"field":"t"}}}]},
{"width":251,"height":175,"encoding":{"x":{"field":"lon","type":"quantitative","scale":{"domain":[-50.02,-40.05],"nice":false,"zero":false},"axis":{"values":[-49,-45,-41],"labelExpr":"abs(datum.value)+'°W'","title":null}},"y":{"field":"lat","type":"quantitative","scale":{"domain":[-28.92,-22.04],"nice":false,"zero":false},"axis":{"values":[-23,-25.5,-28],"labels":false,"title":null}}},"layer":[
{"data":{"name":"land"},"mark":{"type":"area","interpolate":"monotone","clip":true,"color":"#d3d3d3"},"encoding":{"y":{"field":"c","type":"quantitative"},"y2":{"datum":-21.9}}},
{"data":{"name":"p6"},"transform":[{"fold":["0\\.7","0\\.63","0\\.56","0\\.49","0\\.42","0\\.35","0\\.28","0\\.351","0\\.421","0\\.491"],"as":["band","lat"]}],"mark":{"type":"area","interpolate":"monotone","clip":true},"encoding":{"y2":{"field":"c"},"detail":{"field":"band"},"color":{"field":"band","type":"quantitative","legend":null,"scale":{"domain":[-0.7,-0.56,-0.42,-0.28,-0.14,0,0.14,0.28,0.42,0.56,0.7],"range":["#3b4cc0","#5977e3","#7b9ff9","#9ebeff","#c0d4f5","#dddcdc","#f2cbb7","#f7ac8e","#ee8468","#d65244","#b40426"]}}}},
{"data":{"name":"dash"},"mark":{"type":"line","clip":true,"color":"white","strokeWidth":2,"strokeDash":[6,3.5]}},
{"data":{"name":"shore"},"mark":{"type":"line","clip":true,"color":"#222","strokeWidth":0.8},"encoding":{"order":{"field":"i"}}},
{"data":{"name":"isl"},"mark":{"type":"point","clip":true,"filled":true,"fill":"white","stroke":"#333","strokeWidth":0.6,"opacity":1,"size":20}}]}
]}
